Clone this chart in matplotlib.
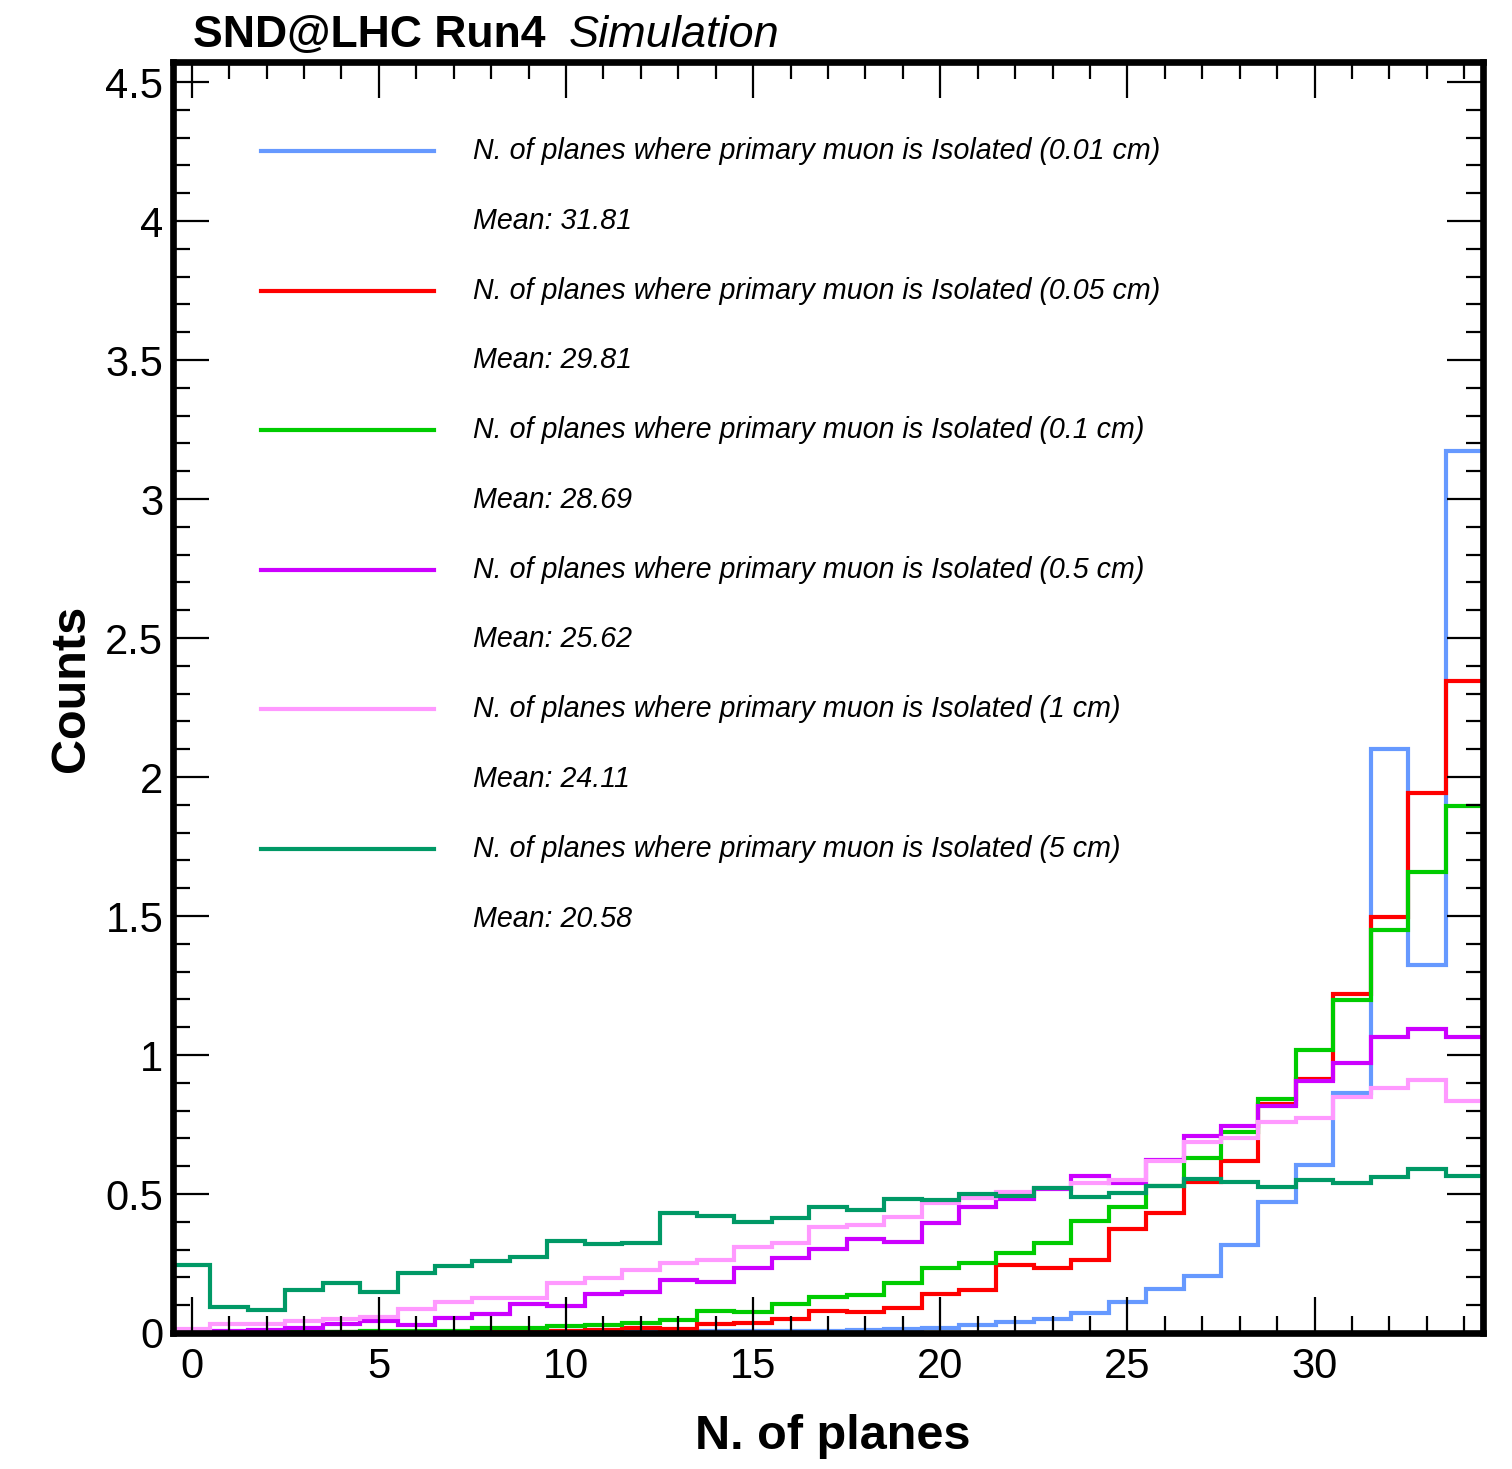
import numpy as np
import matplotlib
matplotlib.use("Agg")
from matplotlib import pyplot as plt
from matplotlib.ticker import MultipleLocator

plt.rcParams["font.family"] = ["Liberation Sans", "DejaVu Sans"]

# Histogram contents, one value per bin (bins of width 1 centred on 0..34)
bin_edges = np.arange(-0.5, 35.0, 1.0)

iso_001 = [0.002, 0.002, 0.002, 0.003, 0.003, 0.003, 0.004, 0.004, 0.005, 0.005,
           0.006, 0.007, 0.007, 0.007, 0.007, 0.008, 0.008, 0.008, 0.010, 0.016,
           0.019, 0.030, 0.041, 0.049, 0.071, 0.112, 0.157, 0.205, 0.317, 0.470,
           0.604, 0.862, 2.099, 1.323, 3.172]
iso_005 = [0.001, 0.001, 0.001, 0.002, 0.002, 0.002, 0.002, 0.003, 0.003, 0.005,
           0.007, 0.012, 0.019, 0.016, 0.031, 0.035, 0.049, 0.079, 0.077, 0.091,
           0.139, 0.155, 0.245, 0.233, 0.263, 0.373, 0.431, 0.544, 0.619, 0.824,
           0.914, 1.218, 1.496, 1.942, 2.345]
iso_01 = [0.002, 0.002, 0.003, 0.005, 0.005, 0.006, 0.006, 0.007, 0.017, 0.019,
          0.025, 0.030, 0.035, 0.047, 0.078, 0.076, 0.104, 0.129, 0.137, 0.179,
          0.233, 0.251, 0.287, 0.325, 0.404, 0.452, 0.529, 0.631, 0.724, 0.842,
          1.018, 1.198, 1.449, 1.658, 1.896]
iso_05 = [0.005, 0.007, 0.010, 0.017, 0.032, 0.043, 0.029, 0.053, 0.067, 0.104,
          0.097, 0.139, 0.149, 0.191, 0.183, 0.235, 0.269, 0.302, 0.338, 0.326,
          0.395, 0.454, 0.483, 0.518, 0.566, 0.538, 0.622, 0.709, 0.746, 0.817,
          0.906, 0.972, 1.066, 1.092, 1.066]
iso_1 = [0.014, 0.032, 0.031, 0.043, 0.050, 0.059, 0.085, 0.110, 0.125, 0.127,
         0.179, 0.199, 0.225, 0.253, 0.261, 0.310, 0.325, 0.380, 0.387, 0.416,
         0.466, 0.485, 0.507, 0.520, 0.541, 0.550, 0.619, 0.687, 0.700, 0.760,
         0.772, 0.850, 0.880, 0.910, 0.833]
iso_5 = [0.245, 0.094, 0.083, 0.155, 0.179, 0.149, 0.215, 0.242, 0.259, 0.275,
         0.331, 0.320, 0.325, 0.431, 0.422, 0.400, 0.412, 0.452, 0.442, 0.483,
         0.480, 0.500, 0.494, 0.520, 0.488, 0.505, 0.530, 0.554, 0.542, 0.524,
         0.550, 0.541, 0.562, 0.591, 0.566]

cuts = ["0.01 cm", "0.05 cm", "0.1 cm", "0.5 cm", "1 cm", "5 cm"]
means = [31.81, 29.81, 28.69, 25.62, 24.11, 20.58]
colors = ["#6699ff", "#ff0000", "#00cc00", "#cc00ff", "#ff99ff", "#009966"]
series = [iso_001, iso_005, iso_01, iso_05, iso_1, iso_5]


fig = plt.figure(figsize=(15.12, 14.69), dpi=100)
ax = fig.add_axes([173 / 1512, 1 - 1333 / 1469, 1310 / 1512, 1271 / 1469])

for values, color in zip(series, colors):
    ax.stairs(values, bin_edges, baseline=0, fill=False, color=color, linewidth=3)

ax.set_xlim(-0.5, 34.5)
ax.set_ylim(0, 4.572)

ax.xaxis.set_major_locator(MultipleLocator(5))
ax.xaxis.set_minor_locator(MultipleLocator(1))
ax.yaxis.set_major_locator(MultipleLocator(0.5))
ax.yaxis.set_minor_locator(MultipleLocator(0.1))
ax.yaxis.set_major_formatter(lambda v, pos: f"{v:g}")

ax.tick_params(which="both", direction="in", top=True, right=True, width=1.6, labelsize=30)
ax.tick_params(which="major", length=26)
ax.tick_params(which="minor", length=12)
ax.tick_params(axis="x", pad=10)
ax.tick_params(axis="y", pad=7)

for spine in ax.spines.values():
    spine.set_linewidth(4.8)

ax.set_xlabel("N. of planes", fontsize=35, fontweight="bold")
ax.set_ylabel("Counts", fontsize=35, fontweight="bold")
ax.xaxis.set_label_coords(0.504, -0.064)
ax.yaxis.set_label_coords(-0.060, 0.5075)

# Legend, drawn by hand like the ROOT TLegend: line entry then mean entry
row_top = 0.9300
row_step = 0.0549
for i, (cut, mean, color) in enumerate(zip(cuts, means, colors)):
    y_line = row_top - 2 * i * row_step
    y_mean = y_line - row_step
    ax.plot([0.0672, 0.199], [y_line, y_line], transform=ax.transAxes,
            color=color, linewidth=3, clip_on=False)
    ax.text(0.229, y_line, f"N. of planes where primary muon is Isolated ({cut})",
            transform=ax.transAxes, fontsize=20.6, style="italic", va="center")
    ax.text(0.229, y_mean, f"Mean: {mean:.2f}", transform=ax.transAxes,
            fontsize=20.6, style="italic", va="center")

fig.text(193 / 1512, 1 - 47 / 1469, "SND@LHC Run4", fontsize=32, fontweight="bold",
         va="baseline")
fig.text(569 / 1512, 1 - 47 / 1469, "Simulation", fontsize=32.5, style="italic",
         va="baseline")

fig.savefig("out.png", dpi=100)
